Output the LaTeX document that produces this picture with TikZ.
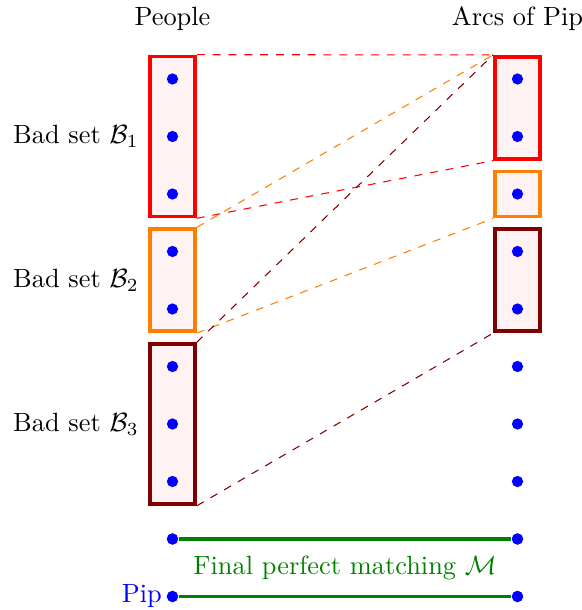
\documentclass[tikz,border=0pt]{standalone}
\usepackage{amsmath}
\usepackage{tikz}
\usetikzlibrary{positioning, calc}

\begin{document}
\begin{tikzpicture}[
		x=0.766cm, y=0.766cm,
		badbox/.style={rectangle, draw=#1, line width=1.4pt, fill=red!5, minimum width=0.6cm, inner sep=0pt},
		dot/.style={circle, fill=blue, inner sep=0pt, minimum size=0.15cm},
		link/.style={dashed, color=#1},
		match/.style={line width=1.3pt, color=green!50!black}
		]
		\useasboundingbox (0,1.374) rectangle (10.12,-9.235);
		
		% people side
		\node[badbox=red, minimum height=2.13cm] (lb1) at (3,-1) {};
		\node[badbox=orange, minimum height=1.36cm] (lb2) at (3,-3.5) {};
		\node[badbox=red!50!black, minimum height=2.13cm] (lb3) at (3,-6) {};
		
		% arcs side
		\node[badbox=red, minimum height=1.36cm] (rb1) at (9,-0.5) {};
		\node[badbox=orange, minimum height=0.6cm] (rb2) at (9,-2) {};
		\node[badbox=red!50!black, minimum height=1.36cm] (rb3) at (9,-3.5) {};
		
		\foreach \i in {0,...,9} {
			\node[dot] (p\i) at (3,-\i) {};
			\node[dot] (a\i) at (9,-\i) {};
		}
		
		\node[above=0.2cm of lb1] (people) {People};
		\node[above=0.2cm of rb1] (arcs) {Arcs of Pip};
		
		\node[left=0pt of lb1] (bad1) {Bad set $\mathcal{B}_1$};
		\node[left=0pt of lb2] (bad2) {Bad set $\mathcal{B}_2$};
		\node[left=0pt of lb3] (bad3) {Bad set $\mathcal{B}_3$};
		
		\draw[link=red] (lb1.north east) -- (rb1.north west);
		\draw[link=red] (lb1.south east) -- (rb1.south west);
		\draw[link=orange] (lb2.north east) -- (rb1.north west);
		\draw[link=orange] (lb2.south east) -- (rb2.south west);
		\draw[link=red!50!black] (lb3.north east) -- (rb1.north west);
		\draw[link=red!50!black] (lb3.south east) -- (rb3.south west);
		
		\draw[match] (p8) -- (a8);
		\draw[match] (p9) -- (a9);
		\node[dot] at (p8) {};
		\node[dot] at (a8) {};
		\node[dot] at (p9) {};
		\node[dot] at (a9) {};
		
		\node[text=green!50!black] (final) at ($(p8)!0.5!(a9)$) {Final perfect matching $\mathcal{M}$};
		\node[left=0pt of p9, text=blue, inner sep=1.5pt] (pip) {Pip};
		
	\end{tikzpicture}
\end{document}
